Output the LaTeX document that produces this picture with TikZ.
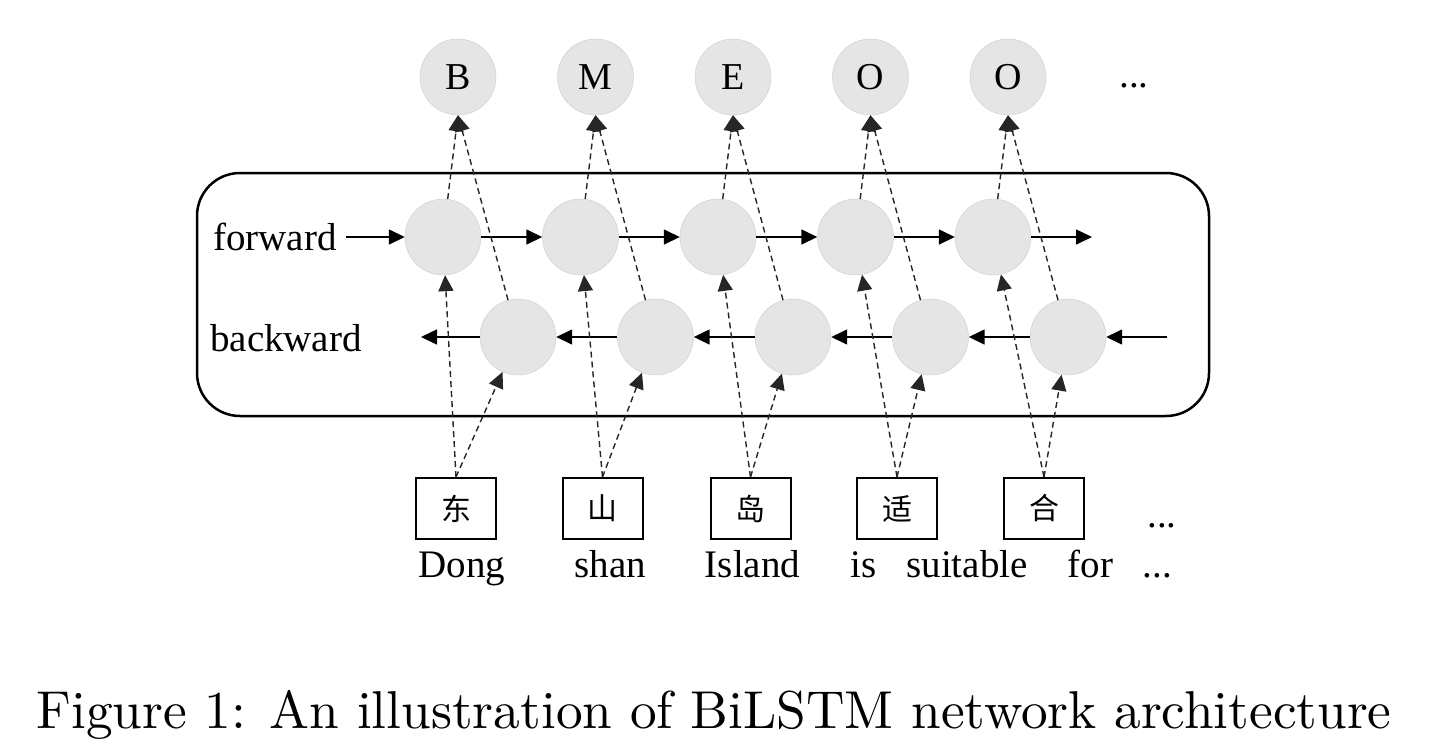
\documentclass[tikz,border=0pt]{standalone}
\usepackage{fontspec}
\newfontfamily\tnr{Liberation Serif}
\newfontfamily\cjk{Noto Sans CJK SC}
\newfontfamily\capfont{lmroman10-regular}[Extension=.otf]
\usetikzlibrary{arrows.meta}
\begin{document}
\begin{tikzpicture}[x=1pt,y=-1pt,
  cell/.style={circle,fill=black!10,draw=black!20,line width=0.4pt,minimum size=76pt,inner sep=0pt},
  tag/.style={cell,font=\tnr\fontsize{38}{40}\selectfont},
  charbox/.style={draw,line width=2pt,minimum width=80pt,minimum height=61pt,inner sep=0pt,font=\cjk\fontsize{30}{32}\selectfont},
  word/.style={anchor=base,inner sep=0pt,font=\tnr\fontsize{39}{42}\selectfont},
  flow/.style={line width=1.5pt,-{Triangle[length=16pt,width=15pt]}},
  link/.style={line width=1.4pt,black!85,dash pattern=on 6pt off 4pt,-{Triangle[length=16pt,width=15pt]}}]
\useasboundingbox (0,0) rectangle (1430,748);
% outer box
\node[draw,line width=2.5pt,rounded corners=43pt,minimum width=1012pt,minimum height=243pt,inner sep=0pt] (frame) at (703,294.5) {};
% top tags
\node[tag] (t1) at (458,77) {B};
\node[tag] (t2) at (595.5,77) {M};
\node[tag] (t3) at (733,77) {E};
\node[tag] (t4) at (870.5,77) {O};
\node[tag] (t5) at (1008,77) {O};
\node[word] (tdots) at (1134,87) {...};
% forward and backward cells
\foreach \i/\x in {1/443,2/580.5,3/718,4/855.5,5/993}{
  \node[cell] (f\i) at (\x,237) {};
}
\foreach \i/\x in {1/518,2/655.5,3/793,4/930.5,5/1068}{
  \node[cell] (b\i) at (\x,337) {};
}
% labels
\node[word,anchor=base west] (fl) at (213,250) {forward};
\node[word,anchor=base west] (bl) at (210,351) {backward};
\coordinate (fin) at (346,237);
\coordinate (fout) at (1092,237);
\coordinate (bin) at (1167,337);
\coordinate (bout) at (421,337);
% boxes
\node[charbox] (w1) at (456,508.5) {东};
\node[charbox] (w2) at (602.5,508.5) {山};
\node[charbox] (w3) at (750.5,508.5) {岛};
\node[charbox] (w4) at (897,508.5) {适};
\node[charbox] (w5) at (1044,508.5) {合};
\node[word] (wdots) at (1162,527) {...};
% words
\node[word] (e1) at (462,577) {Dong};
\node[word] (e2) at (610.5,577) {shan};
\node[word] (e3) at (752.5,577) {Island};
\node[word] (e4) at (863.5,577) {is};
\node[word] (e5) at (967,577) {suitable};
\node[word] (e6) at (1090.5,577) {for};
\node[word] (e7) at (1157.5,577) {...};
% solid arrows
\draw[flow] (fin) -- (f1);
\draw[flow] (f1) -- (f2);
\draw[flow] (f2) -- (f3);
\draw[flow] (f3) -- (f4);
\draw[flow] (f4) -- (f5);
\draw[flow] (f5) -- (fout);
\draw[flow] (bin) -- (b5);
\draw[flow] (b5) -- (b4);
\draw[flow] (b4) -- (b3);
\draw[flow] (b3) -- (b2);
\draw[flow] (b2) -- (b1);
\draw[flow] (b1) -- (bout);
% dashed links
\foreach \i in {1,...,5}{
  \draw[link] (w\i.north) -- (f\i);
  \draw[link] (w\i.north) -- (b\i);
  \draw[link] (f\i) -- (t\i.south);
  \draw[link] (b\i) -- (t\i.south);
}
% caption
\node[anchor=base,inner sep=0pt,font=\capfont\fontsize{53.3}{60}\selectfont] (cap) at (714,728) {Figure 1: An illustration of BiLSTM network architecture};
\end{tikzpicture}
\end{document}
